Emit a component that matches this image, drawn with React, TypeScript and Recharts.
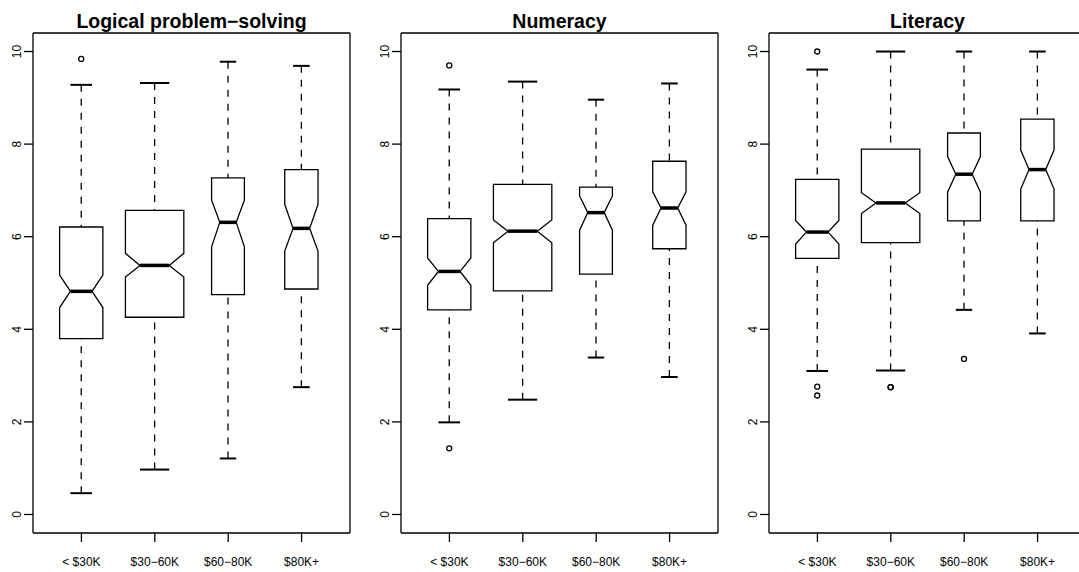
import { Bar, CartesianGrid, ComposedChart, XAxis, YAxis } from 'recharts';

const groups = ['< $30K', '$30\u221260K', '$60\u221280K', '$80K+'];
// group sizes drive the box widths (varwidth)
const groupSizes = [113, 206, 65, 67];

// rows: [lower whisker, Q1, notch low, median, notch high, Q3, upper whisker]
const logicalStats = [
    [0.46, 3.80, 4.47, 4.82, 5.17, 6.21, 9.28],
    [0.97, 4.26, 5.13, 5.38, 5.64, 6.57, 9.32],
    [1.21, 4.75, 5.78, 6.31, 6.79, 7.27, 9.78],
    [2.75, 4.87, 5.69, 6.18, 6.70, 7.45, 9.69],
];
const logicalOutliers = [[9.84], [], [], []];

const numeracyStats = [
    [1.99, 4.42, 4.95, 5.25, 5.54, 6.39, 9.18],
    [2.48, 4.83, 5.87, 6.12, 6.36, 7.13, 9.35],
    [3.39, 5.19, 6.14, 6.52, 6.88, 7.07, 8.96],
    [2.97, 5.74, 6.25, 6.62, 6.97, 7.63, 9.31],
];
const numeracyOutliers = [[9.70, 1.43], [], [], []];

const literacyStats = [
    [3.10, 5.53, 5.84, 6.10, 6.35, 7.24, 9.61],
    [3.11, 5.87, 6.50, 6.73, 6.95, 7.89, 10.0],
    [4.42, 6.34, 6.96, 7.35, 7.73, 8.24, 10.0],
    [3.91, 6.34, 7.03, 7.45, 7.87, 8.54, 10.0],
];
const literacyOutliers = [[10.0, 2.76, 2.57], [2.75, 2.75], [3.36], []];

const yTicks = [0, 2, 4, 6, 8, 10];

const FONT = '"Liberation Sans", Arial, Helvetica, sans-serif';
const PANEL_W = 368;
const PANEL_H = 572;
const PLOT_W = 317;
const X_PAD = PLOT_W * 0.16 / 4.32;
const BOXWEX = 0.8;
const NOTCH_FRAC = 0.5;
const STAPLE = 0.5;
const LW = 1.3;

const maxN = Math.max(...groupSizes);

const buildRows = (stats: number[][], outliers: number[][]) =>
    groups.map((g, i) => ({
        group: g,
        iqr: [stats[i][1], stats[i][5]],
        stats: stats[i],
        outliers: outliers[i],
        rel: Math.sqrt(groupSizes[i] / maxN),
    }));

const NotchedBox = (props: any) => {
    const { x, y, width, height, payload } = props;
    if (!payload) return null;
    const [lo, q1, nLo, med, nHi, q3, hi] = payload.stats;
    const top = Math.min(y, y + height);
    const k = Math.abs(height) / (q3 - q1);
    const Y = (v: number) => top + (q3 - v) * k;
    const cx = x + width / 2;
    const w = (width * BOXWEX * payload.rel) / 2;
    const nw = w * NOTCH_FRAC;
    const sw = w * STAPLE;
    const pts = [
        [cx - w, Y(q1)], [cx + w, Y(q1)], [cx + w, Y(nLo)], [cx + nw, Y(med)],
        [cx + w, Y(nHi)], [cx + w, Y(q3)], [cx - w, Y(q3)], [cx - w, Y(nHi)],
        [cx - nw, Y(med)], [cx - w, Y(nLo)],
    ].map(p => p.join(',')).join(' ');
    return (
        <g>
            <line x1={cx} y1={Y(lo)} x2={cx} y2={Y(q1)} stroke="#000" strokeWidth={LW} strokeDasharray="7 7" />
            <line x1={cx} y1={Y(hi)} x2={cx} y2={Y(q3)} stroke="#000" strokeWidth={LW} strokeDasharray="7 7" />
            <line x1={cx - sw} y1={Y(lo)} x2={cx + sw} y2={Y(lo)} stroke="#000" strokeWidth={2} />
            <line x1={cx - sw} y1={Y(hi)} x2={cx + sw} y2={Y(hi)} stroke="#000" strokeWidth={2} />
            <polygon points={pts} fill="#fff" stroke="#000" strokeWidth={LW} strokeLinejoin="miter" />
            <line x1={cx - nw} y1={Y(med)} x2={cx + nw} y2={Y(med)} stroke="#000" strokeWidth={3.5} />
            {payload.outliers.map((v: number, i: number) => (
                <circle key={i} cx={cx} cy={Y(v)} r={2.5} fill="none" stroke="#000" strokeWidth={1.3} />
            ))}
        </g>
    );
};

const YTick = ({ x, y, payload }: any) => {
    const tx = x - 5;
    return (
        <text x={tx} y={y} transform={`rotate(-90 ${tx} ${y})`} textAnchor="middle"
            dominantBaseline="central" fontSize={12} fontFamily={FONT} fill="#000">
            {payload.value}
        </text>
    );
};

const XTick = ({ x, y, payload }: any) => (
    <text x={x} y={y + 22} textAnchor="middle" fontSize={12} fontFamily={FONT} fill="#000">
        {payload.value}
    </text>
);

const axisLineStyle = { stroke: '#000', strokeWidth: LW };

// top and right edges of the plot frame
const frameTop = ({ offset }: any) => [offset.top];
const frameRight = ({ offset }: any) => [offset.left + offset.width];

const Panel = ({ title, stats, outliers }: { title: string; stats: number[][]; outliers: number[][] }) => {
    const rows = buildRows(stats, outliers);
    return (
        <div style={{ position: 'relative', width: PANEL_W, height: PANEL_H, flex: 'none' }}>
            <div style={{
                position: 'absolute', left: 33, top: 12, width: PLOT_W, textAlign: 'center',
                fontFamily: FONT, fontWeight: 'bold', fontSize: 19.5, lineHeight: '19px', whiteSpace: 'nowrap',
            }}>
                {title}
            </div>
            <ComposedChart width={PANEL_W} height={PANEL_H} data={rows}
                margin={{ top: 33, right: 18, bottom: 0, left: 0 }} barCategoryGap={0} barGap={0}>
                <CartesianGrid stroke="#000" strokeWidth={LW} strokeDasharray="0"
                    horizontalCoordinatesGenerator={frameTop} verticalCoordinatesGenerator={frameRight} />
                <XAxis dataKey="group" type="category" height={39} padding={{ left: X_PAD, right: X_PAD }}
                    tickSize={9} tickLine={axisLineStyle} axisLine={axisLineStyle} tick={<XTick />} interval={0} />
                <YAxis type="number" domain={[-0.4, 10.4]} ticks={yTicks} interval={0} width={33}
                    tickSize={9} tickLine={axisLineStyle} axisLine={axisLineStyle} tick={<YTick />} />
                <Bar dataKey="iqr" isAnimationActive={false} shape={(p: any) => <NotchedBox {...p} />} />
            </ComposedChart>
        </div>
    );
};

export default function App() {
    return (
        <div style={{
            position: 'absolute', left: 0, top: 0, width: 1079, height: 572, overflow: 'hidden',
            display: 'flex', background: '#fff',
        }}>
            <Panel title={'Logical problem\u2212solving'} stats={logicalStats} outliers={logicalOutliers} />
            <Panel title="Numeracy" stats={numeracyStats} outliers={numeracyOutliers} />
            <Panel title="Literacy" stats={literacyStats} outliers={literacyOutliers} />
        </div>
    );
}
